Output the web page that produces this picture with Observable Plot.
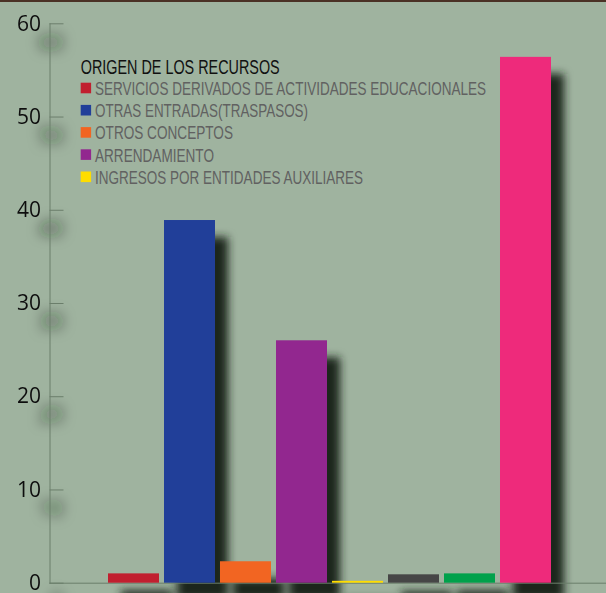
<!DOCTYPE html>
<html><head><meta charset="utf-8">
<script src="https://cdn.jsdelivr.net/npm/d3@7"></script>
<script src="https://cdn.jsdelivr.net/npm/@observablehq/plot@0.6"></script>
<style>
html,body{margin:0;padding:0;background:#9fb39f;}
#wrap{position:relative;width:606px;height:593px;overflow:hidden;}
#topline{position:absolute;left:0;top:0;width:606px;height:2px;background:#4a3125;z-index:2;}
svg{display:block;}
</style></head><body><div id="wrap"><div id="topline"></div></div>
<script>
// ---- data ----
const categories = [
  "SERVICIOS DERIVADOS DE ACTIVIDADES EDUCACIONALES",
  "OTRAS ENTRADAS(TRASPASOS)",
  "OTROS CONCEPTOS",
  "ARRENDAMIENTO",
  "INGRESOS POR ENTIDADES AUXILIARES",
  "CATEGORÍA 6",
  "CATEGORÍA 7",
  "CATEGORÍA 8"
];
const values = [1.0, 38.9, 2.3, 26.0, 0.2, 0.9, 1.0, 56.4];
const colors = ["#c11f2f", "#213f99", "#f26522", "#92278f", "#ffdd00", "#464646", "#00a14b", "#ee2a7b"];
const yTicks = [0, 10, 20, 30, 40, 50, 60];
const legendTitle = "ORIGEN DE LOS RECURSOS";
const legendItems = categories.slice(0, 5);

const data = categories.map((c, i) => ({category: c, value: values[i]}));

// ---- layout ----
const W = 606, H = 593, mL = 49.5, mT = 23.3, mB = 10.3;
const axisColor = "#6b7e6b";
const legendTextWidths = [391, 213, 138, 119, 268];

const chart = Plot.plot({
  width: W, height: H,
  marginLeft: mL, marginTop: mT, marginBottom: mB, marginRight: 0,
  style: {background: "#9fb39f", overflow: "visible", fontFamily: "Open Sans"},
  x: {domain: categories, range: [103, 556], padding: 0.0893, round: false, axis: null},
  y: {domain: [0, 60], axis: null},
  color: {domain: categories, range: colors},
  marks: [
    Plot.barY(data, {x: "category", y: "value", fill: "#1f251f", dx: 13, dy: 17}),
    Plot.axisY({ticks: yTicks, tickSize: 0, tickPadding: 9, fontSize: 21, fill: "#111", fontFamily: "Open Sans", label: null}),
    Plot.tickY(yTicks, {y: d => d, stroke: axisColor, insetRight: W - mL - 14}),
    Plot.frame({anchor: "left", stroke: axisColor}),
    Plot.ruleY([0], {stroke: axisColor}),
    Plot.barY(data, {x: "category", y: "value", fill: "category"})
  ]
});

document.getElementById("wrap").appendChild(chart);

const svg = d3.select(chart);
const defs = svg.insert("defs", ":first-child");
const f1 = defs.append("filter").attr("id", "barShadow")
  .attr("x", "-20%").attr("y", "-20%").attr("width", "140%").attr("height", "140%");
f1.append("feGaussianBlur").attr("stdDeviation", 4);

const f2 = defs.append("filter").attr("id", "labelShadow")
  .attr("x", "-100%").attr("y", "-100%").attr("width", "400%").attr("height", "400%");
f2.append("feGaussianBlur").attr("in", "SourceAlpha").attr("stdDeviation", 6.5).attr("result", "b");
f2.append("feOffset").attr("in", "b").attr("dx", 22).attr("dy", 19).attr("result", "o");
f2.append("feFlood").attr("flood-color", "#1a221a").attr("flood-opacity", 1).attr("result", "c");
f2.append("feComposite").attr("in", "c").attr("in2", "o").attr("operator", "in").attr("result", "s");
const m = f2.append("feMerge");
m.append("feMergeNode").attr("in", "s");
m.append("feMergeNode").attr("in", "SourceGraphic");

const barGroups = svg.selectAll('g[aria-label="bar"]').nodes();
if (barGroups.length) d3.select(barGroups[0]).attr("filter", "url(#barShadow)");
svg.select('g[aria-label="y-axis tick label"]').attr("filter", "url(#labelShadow)");

// ---- legend ----
const lg = svg.append("g")
  .attr("font-family", "'Liberation Sans', Arial, sans-serif")
  .attr("text-anchor", "start");
lg.append("text")
  .attr("x", 80.7).attr("y", 74.3)
  .attr("font-size", 19.5).attr("fill", "#111")
  .attr("textLength", 199).attr("lengthAdjust", "spacingAndGlyphs")
  .text(legendTitle);
legendItems.forEach((name, i) => {
  const yb = 95 + i * 22.2;
  lg.append("rect")
    .attr("x", 80.7).attr("y", yb - 12.3).attr("width", 10.4).attr("height", 10.6)
    .attr("fill", colors[i]);
  lg.append("text")
    .attr("x", 95).attr("y", yb)
    .attr("font-size", 17.6).attr("fill", "#616161")
    .attr("textLength", legendTextWidths[i]).attr("lengthAdjust", "spacingAndGlyphs")
    .text(name);
});
</script>
</body></html>
